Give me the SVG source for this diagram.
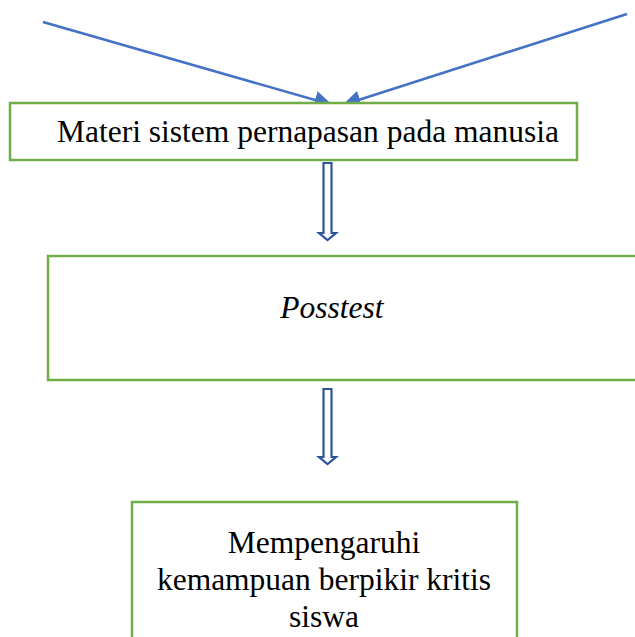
<svg xmlns="http://www.w3.org/2000/svg" width="635" height="637" viewBox="0 0 635 637">
<defs>
<style>
.box{fill:#fff;stroke:#70ad47;stroke-width:2.5}
.t{font-family:"Liberation Serif",serif;font-size:31.5px;fill:#000;text-anchor:middle}
.ln{stroke:#4472c4;stroke-width:2.6;fill:none}
.blk{fill:#fff;stroke:#2f5597;stroke-width:2.2}
</style>
<marker id="ah" viewBox="0 0 10 10" refX="8" refY="5" markerWidth="7" markerHeight="7" orient="auto" markerUnits="strokeWidth">
<path d="M0,0 L10,5 L0,10 z" fill="#4472c4"/>
</marker>
</defs>
<g id="connectors">
<line class="ln" x1="43" y1="22" x2="329" y2="104" marker-end="url(#ah)"/>
<line class="ln" x1="627" y1="14" x2="346" y2="104" marker-end="url(#ah)"/>
<path class="blk" d="M323.5,163 H331.5 V233 H336 L327.5,240 L319,233 H323.5 Z"/>
<path class="blk" d="M323.5,389 H331.5 V457 H336 L327.5,464 L319,457 H323.5 Z"/>
</g>
<g id="node1">
<rect class="box" x="10" y="103" width="567" height="57"/>
<text class="t" x="308" y="142">Materi sistem pernapasan pada manusia</text>
</g>
<g id="node2">
<rect class="box" x="48" y="256" width="600" height="124"/>
<text class="t" x="332" y="318" font-style="italic">Posstest</text>
</g>
<g id="node3">
<rect class="box" x="132" y="502" width="385" height="150"/>
<text class="t" x="324" y="553">Mempengaruhi</text>
<text class="t" x="324" y="590">kemampuan berpikir kritis</text>
<text class="t" x="324" y="627">siswa</text>
</g>
</svg>
